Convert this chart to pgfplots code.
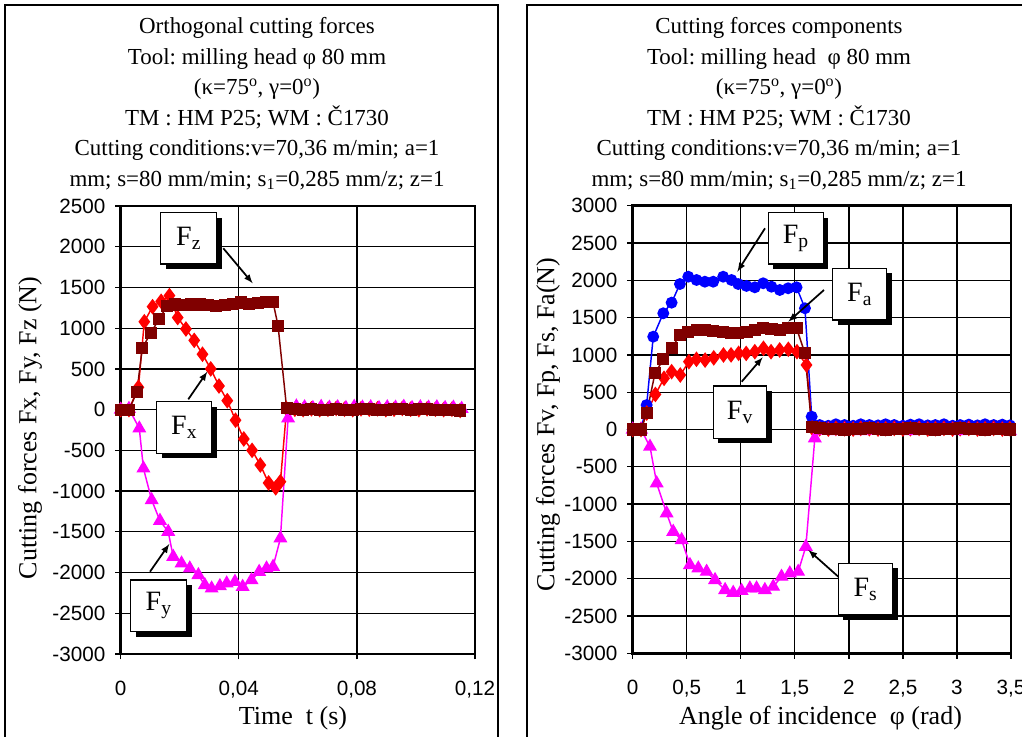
\documentclass[border=0pt]{standalone}
\usepackage{fontspec}
\setmainfont{Liberation Serif}
\newfontfamily\arial{Liberation Sans}
\usepackage{pgfplots}
\pgfplotsset{compat=1.18}
\definecolor{dred}{HTML}{800000}
\definecolor{mag}{HTML}{FF00FF}
\frenchspacing

\pgfplotsset{
  frc/.style={
    scale only axis, anchor=south west, clip=false,
    axis line style={line width=2.2pt},
    grid=major, major grid style={line width=1pt, black},
    tick align=outside, major tick length=4pt, tick style={black, line width=1pt},
    tick pos=left,
    ticklabel style={font=\arial\fontsize{15.5}{18}\selectfont},
    xticklabel style={yshift=-12.5pt},
    yticklabel style={xshift=-4pt},
    every axis plot/.append style={line width=1.1pt},
  },
  sz/.style={dred, mark=square*, mark size=4pt},
  sx/.style={red, mark=diamond*, mark size=5pt},
  sy/.style={mag, mark=triangle*, mark size=5pt},
  sp/.style={blue, mark=*, mark size=3.9pt},
}

\newcommand{\lbl}[5]{%
  \fill[black] (#1+5,#2+5) rectangle (#3+5,#4+5);
  \filldraw[fill=white, draw=black, line width=1.1pt] (#1,#2) rectangle (#3,#4);
  \node[font=\fontsize{21}{24}\selectfont] at ({(#1+#3)/2},{(#2+#4)/2}) {#5};}

\begin{document}
\begin{tikzpicture}
\useasboundingbox (0pt,0pt) rectangle (766.5pt,552.75pt);

% ---------------- left axis
\begin{axis}[frc, at={(90.525pt,62.25pt)}, width=265.7pt, height=336pt,
  xmin=0, xmax=0.12, ymin=-3000, ymax=2500,
  xtick={0,0.04,0.08,0.12}, xticklabels={0,{0,04},{0,08},{0,12}},
  ytick={-3000,-2500,...,2500},
  yticklabels={-3000,-2500,-2000,-1500,-1000,-500,0,500,1000,1500,2000,2500}]
\addplot[sx] coordinates {
(0,0) (0.0028,0) (0.0060,274) (0.0080,1079) (0.0108,1264) (0.0137,1330) (0.0165,1400)
(0.0193,1130) (0.0221,990) (0.0249,850) (0.0277,680) (0.0305,500) (0.0333,290) (0.0361,110)
(0.0389,-130) (0.0417,-360) (0.0445,-500) (0.0473,-680) (0.0501,-900) (0.0525,-960) (0.0541,-885)
(0.0562,10) (0.0590,5) (0.0618,0) (0.0646,10) (0.0674,0) (0.0702,5) (0.0730,15) (0.0758,5)
(0.0786,0) (0.0814,10) (0.0842,5) (0.0870,10) (0.0898,0) (0.0926,5) (0.0954,15) (0.0982,5)
(0.1010,0) (0.1038,10) (0.1066,5) (0.1094,0) (0.1122,5) (0.1150,-10)};
\addplot[sy] coordinates {
(0,0) (0.0028,10) (0.0063,-230) (0.0077,-721) (0.0105,-1110) (0.0133,-1364) (0.0161,-1499)
(0.0178,-1806) (0.0206,-1888) (0.0234,-1949) (0.0263,-2031) (0.0285,-2154) (0.0308,-2195)
(0.0336,-2166) (0.0359,-2133) (0.0387,-2113) (0.0413,-2175) (0.0443,-2092) (0.0469,-1991)
(0.0494,-1949) (0.0516,-1929) (0.0541,-1580) (0.0567,-107)
(0.0595,40) (0.0623,30) (0.0651,20) (0.0679,35) (0.0707,25) (0.0735,30) (0.0763,20) (0.0791,35)
(0.0819,25) (0.0847,30) (0.0875,20) (0.0903,30) (0.0931,25) (0.0959,35) (0.0987,20) (0.1015,30)
(0.1043,25) (0.1071,30) (0.1099,20) (0.1127,25) (0.1155,10)};
\addplot[sz] coordinates {
(0,-5) (0.0028,-5) (0.0055,220) (0.0073,753) (0.0102,944) (0.0130,1109) (0.0157,1272)
(0.0185,1290) (0.0212,1285) (0.0240,1290) (0.0268,1290) (0.0296,1280) (0.0324,1270)
(0.0352,1280) (0.0380,1300) (0.0408,1315) (0.0436,1300) (0.0464,1310) (0.0492,1320) (0.0516,1320)
(0.0533,1030) (0.0562,20) (0.0590,10) (0.0618,0) (0.0646,5) (0.0674,-5) (0.0702,0) (0.0730,10)
(0.0758,0) (0.0786,-5) (0.0814,5) (0.0842,10) (0.0870,0) (0.0898,-5) (0.0926,5) (0.0954,10)
(0.0982,0) (0.1010,5) (0.1038,10) (0.1066,0) (0.1094,-5) (0.1122,0) (0.1150,-10)};
\end{axis}

% ---------------- right axis
\begin{axis}[frc, at={(474.525pt,62.775pt)}, width=283.7pt, height=335.7pt,
  xmin=0, xmax=3.5, ymin=-3000, ymax=3000,
  xtick={0,0.5,...,3.5}, xticklabels={0,{0,5},1,{1,5},2,{2,5},3,{3,5}},
  ytick={-3000,-2500,...,3000},
  yticklabels={-3000,-2500,-2000,-1500,-1000,-500,0,500,1000,1500,2000,2500,3000}]
\addplot[sp] coordinates {
(0,0) (0.077,0) (0.129,328) (0.19,1244) (0.283,1558) (0.36,1700) (0.437,1950) (0.514,2048)
(0.591,2004) (0.668,1981) (0.745,1981) (0.837,2048) (0.914,2004) (0.976,1950) (1.053,1924)
(1.13,1906) (1.207,1960) (1.284,1914) (1.361,1870) (1.438,1893) (1.516,1906) (1.594,1625)
(1.656,172) (1.73,60) (1.81,50) (1.88,70) (1.96,60) (2.04,50) (2.11,70) (2.19,60) (2.27,55)
(2.34,70) (2.42,60) (2.50,50) (2.57,65) (2.65,70) (2.73,55) (2.80,60) (2.88,70) (2.96,50)
(3.03,60) (3.11,65) (3.19,55) (3.26,70) (3.34,60) (3.42,65) (3.49,55)};
\addplot[sx] coordinates {
(0,0) (0.077,0) (0.13,220) (0.21,470) (0.29,686) (0.36,775) (0.44,730) (0.52,909) (0.59,941)
(0.67,930) (0.75,960) (0.84,999) (0.91,1000) (0.98,1021) (1.05,1020) (1.13,1043) (1.21,1088)
(1.28,1043) (1.36,1066) (1.44,1075) (1.52,1043) (1.608,865) (1.66,20) (1.73,10) (1.81,5)
(1.88,15) (1.96,10) (2.04,5) (2.11,15) (2.19,10) (2.27,5) (2.34,10) (2.42,15) (2.50,5) (2.57,10)
(2.65,15) (2.73,5) (2.80,10) (2.88,15) (2.96,5) (3.03,10) (3.11,15) (3.19,5) (3.26,10) (3.34,15)
(3.42,5) (3.49,10)};
\addplot[sy] coordinates {
(0,0) (0.077,0) (0.16,-230) (0.222,-721) (0.314,-1123) (0.375,-1370) (0.453,-1481) (0.53,-1816)
(0.607,-1861) (0.684,-1906) (0.762,-2017) (0.855,-2151) (0.93,-2188) (1.007,-2161) (1.084,-2129)
(1.146,-2129) (1.223,-2151) (1.3,-2107) (1.377,-1973) (1.454,-1928) (1.531,-1906) (1.602,-1571)
(1.685,-118) (1.73,-15) (1.81,-10) (1.88,-20) (1.96,-10) (2.04,-15) (2.11,-20) (2.19,-10)
(2.27,-15) (2.34,-20) (2.42,-10) (2.50,-15) (2.57,-20) (2.65,-10) (2.73,-15) (2.80,-20) (2.88,-10)
(2.96,-15) (3.03,-20) (3.11,-10) (3.19,-15) (3.26,-20) (3.34,-10) (3.42,-15) (3.49,-20)};
\addplot[sz] coordinates {
(0,0) (0.077,0) (0.129,217) (0.206,753) (0.283,941) (0.36,1088) (0.437,1267) (0.514,1311)
(0.591,1334) (0.668,1334) (0.745,1320) (0.837,1311) (0.914,1289) (0.976,1289) (1.053,1311)
(1.13,1334) (1.207,1357) (1.284,1345) (1.361,1334) (1.438,1357) (1.516,1357) (1.594,1021)
(1.656,38) (1.73,15) (1.81,5) (1.88,10) (1.96,0) (2.04,10) (2.11,5) (2.19,15) (2.27,5) (2.34,0)
(2.42,10) (2.50,5) (2.57,15) (2.65,5) (2.73,10) (2.80,0) (2.88,10) (2.96,5) (3.03,15) (3.11,5)
(3.19,10) (3.26,0) (3.34,10) (3.42,5) (3.49,0)};
\end{axis}

\begin{scope}[x=0.75pt, y=-0.75pt, yshift=552.75pt]
% frames
\draw[line width=1.5pt] (5,740) -- (5,5) -- (498,5) -- (498,740);
\draw[line width=1.5pt] (527,740) -- (527,5) -- (1025,5);

% titles
\begin{scope}[every node/.style={font=\fontsize{17.2}{20}\selectfont, anchor=base}]
\node at (257,34) {Orthogonal cutting forces};
\node at (257,64.5) {Tool: milling head φ 80 mm};
\node at (257,95) {(κ=75\textsuperscript{o}, γ=0\textsuperscript{o})};
\node at (257,125.5) {TM : HM P25; WM : Č1730};
\node at (257,156) {Cutting conditions:v=70,36 m/min; a=1};
\node at (257,186.5) {mm; s=80 mm/min; s\textsubscript{1}=0,285 mm/z; z=1};
\node at (779,34) {Cutting forces components};
\node at (779,64.5) {Tool: milling head \ φ 80 mm};
\node at (779,95) {(κ=75\textsuperscript{o}, γ=0\textsuperscript{o})};
\node at (779,125.5) {TM : HM P25; WM : Č1730};
\node at (779,156) {Cutting conditions:v=70,36 m/min; a=1};
\node at (779,186.5) {mm; s=80 mm/min; s\textsubscript{1}=0,285 mm/z; z=1};
\end{scope}

% axis labels
\node[font=\fontsize{19.5}{22}\selectfont] at (293,718) {Time \ t (s)};
\node[font=\fontsize{19.5}{22}\selectfont] at (820.5,718) {Angle of incidence \ φ (rad)};
\node[font=\fontsize{19.5}{22}\selectfont, rotate=90] at (30,428) {Cutting forces Fx, Fy, Fz (N)};
\node[font=\fontsize{19.5}{22}\selectfont, rotate=90] at (548,424.5) {Cutting forces Fv, Fp, Fs, Fa(N)};

% annotations
\lbl{160.7}{212.7}{216.7}{264}{F\textsubscript{z}}
\lbl{156.7}{401.7}{211.7}{453.3}{F\textsubscript{x}}
\lbl{130.7}{580}{186.7}{631.7}{F\textsubscript{y}}
\lbl{768.3}{212.7}{823.3}{264}{F\textsubscript{p}}
\lbl{832.7}{268.3}{886.7}{320}{F\textsubscript{a}}
\lbl{713.3}{386}{766.7}{438.3}{F\textsubscript{v}}
\lbl{838.3}{563.3}{892.7}{615}{F\textsubscript{s}}
\begin{scope}[line width=1.3pt, -latex]
\draw (223.3,248.3) -- (252.7,283.3);
\draw (188.3,399.3) -- (207.3,371.7);
\draw (150,571.7) -- (169.3,544);
\draw (765,228.3) -- (737.3,271.7);
\draw (824,290) -- (788.3,321.7);
\draw (741.7,381.7) -- (762.7,357.3);
\draw (838.3,576.7) -- (808.3,550);
\end{scope}
\end{scope}
\end{tikzpicture}
\end{document}
